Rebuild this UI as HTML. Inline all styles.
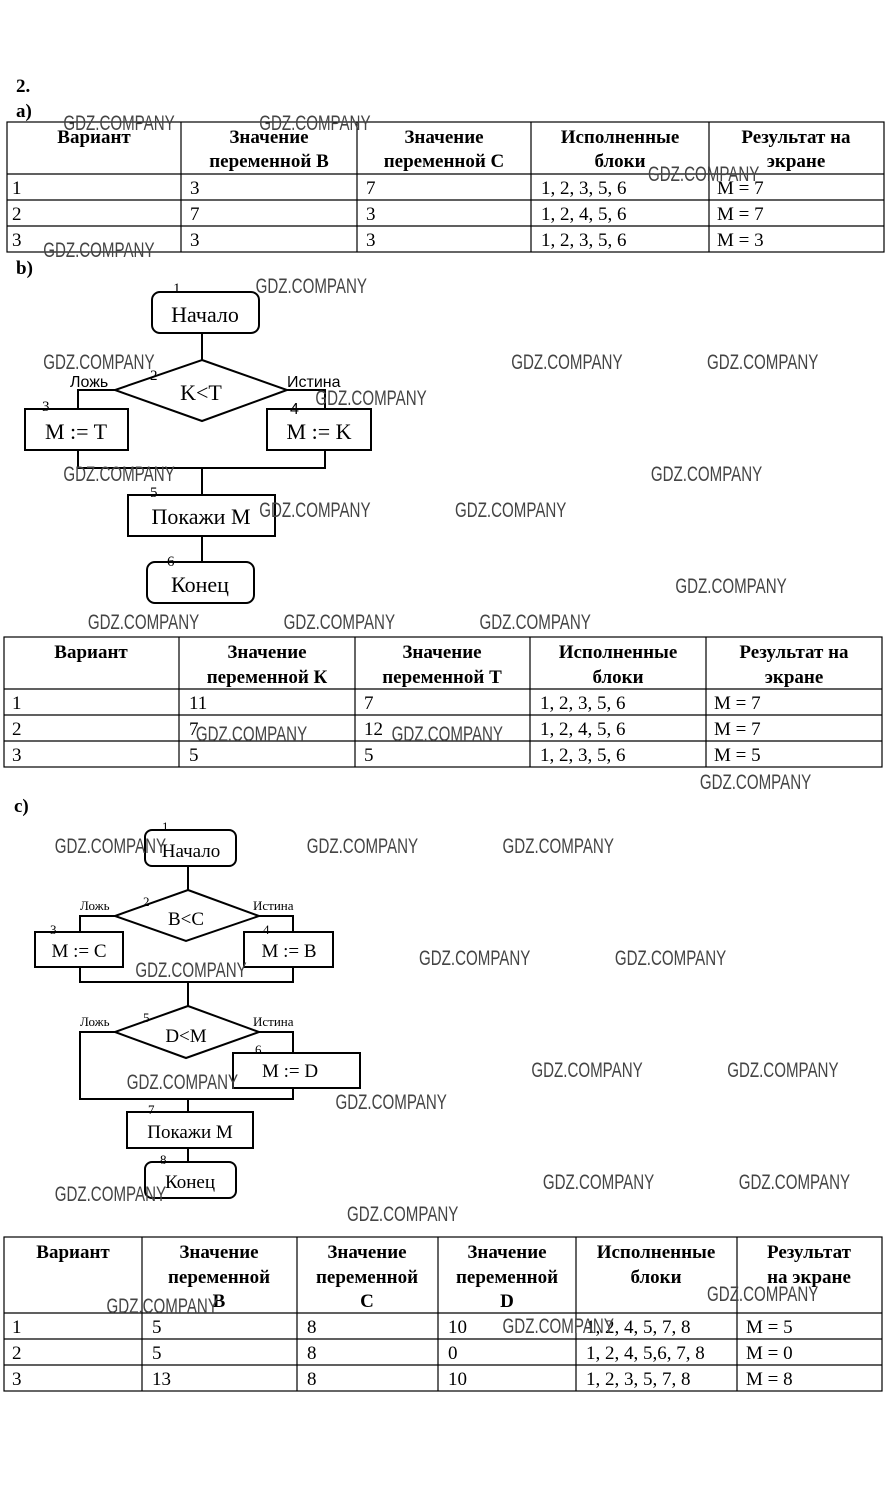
<!DOCTYPE html>
<html><head><meta charset="utf-8"><style>
body{margin:0;background:#fff;width:888px;height:1495px;position:relative;overflow:hidden;font-family:"Liberation Serif",serif;}
svg{position:absolute;left:0;top:0}
.w{font-family:"Liberation Sans",sans-serif;fill:#444;font-size:21px}
</style></head><body>
<svg width="888" height="1495" viewBox="0 0 888 1495">
<g font-family="Liberation Serif" fill="#000" font-size="19">
<text x="16" y="92" font-weight="bold">2.</text>
<text x="16" y="117" font-weight="bold">a)</text>
<text x="16" y="274" font-weight="bold">b)</text>
<text x="14" y="812" font-weight="bold">c)</text>
</g>
<!-- Table a -->
<g stroke="#000" stroke-width="1.2" fill="none">
<rect x="7" y="122" width="877" height="130"/>
<line x1="7" y1="174" x2="884" y2="174"/><line x1="7" y1="200" x2="884" y2="200"/><line x1="7" y1="226" x2="884" y2="226"/>
<line x1="181" y1="122" x2="181" y2="252"/><line x1="357" y1="122" x2="357" y2="252"/><line x1="531" y1="122" x2="531" y2="252"/><line x1="709" y1="122" x2="709" y2="252"/>
</g>
<g font-size="19" fill="#000">
<g font-weight="bold" text-anchor="middle"><text x="94" y="143">Вариант</text>
<text x="269" y="143">Значение</text><text x="269" y="167">переменной В</text>
<text x="444" y="143">Значение</text><text x="444" y="167">переменной С</text>
<text x="620" y="143">Исполненные</text><text x="620" y="167">блоки</text>
<text x="796" y="143">Результат на</text><text x="796" y="167">экране</text></g>
<text x="12" y="194">1</text><text x="190" y="194">3</text><text x="366" y="194">7</text><text x="541" y="194">1, 2, 3, 5, 6</text><text x="717" y="194">M = 7</text>
<text x="12" y="220">2</text><text x="190" y="220">7</text><text x="366" y="220">3</text><text x="541" y="220">1, 2, 4, 5, 6</text><text x="717" y="220">M = 7</text>
<text x="12" y="246">3</text><text x="190" y="246">3</text><text x="366" y="246">3</text><text x="541" y="246">1, 2, 3, 5, 6</text><text x="717" y="246">M = 3</text>
</g>
<!-- Flowchart b -->
<g stroke="#000" stroke-width="2" fill="none">
<rect x="152" y="292" width="107" height="41" rx="8"/>
<line x1="202" y1="333" x2="202" y2="360"/>
<polygon points="202,360 287,390 202,421 115,390"/>
<polyline points="115,390 78,390 78,409"/><polyline points="287,390 325,390 325,409"/>
<rect x="25" y="409" width="103" height="41"/><rect x="267" y="409" width="104" height="41"/>
<polyline points="78,450 78,468 325,468 325,450"/>
<line x1="202" y1="468" x2="202" y2="495"/>
<rect x="128" y="495" width="147" height="41"/>
<line x1="202" y1="536" x2="202" y2="562"/>
<rect x="147" y="562" width="107" height="41" rx="8"/>
</g>
<g fill="#000" font-size="22" text-anchor="middle">
<text x="205" y="322">Начало</text><text x="201" y="400">K&lt;T</text>
<text x="76" y="439">M := T</text><text x="319" y="439">M := K</text>
<text x="201" y="524">Покажи M</text><text x="200" y="592">Конец</text>
</g>
<g fill="#000" font-size="15"><text x="173" y="293">1</text><text x="150" y="380">2</text><text x="42" y="411">3</text><text x="150" y="497">5</text><text x="167" y="566">6</text></g>
<g font-family="Liberation Sans" font-size="16" fill="#000"><text x="70" y="387">Ложь</text><text x="287" y="387">Истина</text><text x="290" y="414">4</text></g>
<!-- Table b -->
<g stroke="#000" stroke-width="1.2" fill="none">
<rect x="4" y="637" width="878" height="130"/>
<line x1="4" y1="689" x2="882" y2="689"/><line x1="4" y1="715" x2="882" y2="715"/><line x1="4" y1="741" x2="882" y2="741"/>
<line x1="179" y1="637" x2="179" y2="767"/><line x1="355" y1="637" x2="355" y2="767"/><line x1="530" y1="637" x2="530" y2="767"/><line x1="706" y1="637" x2="706" y2="767"/>
</g>
<g font-size="19" fill="#000">
<g font-weight="bold" text-anchor="middle"><text x="91" y="658">Вариант</text>
<text x="267" y="658">Значение</text><text x="267" y="683">переменной К</text>
<text x="442" y="658">Значение</text><text x="442" y="683">переменной Т</text>
<text x="618" y="658">Исполненные</text><text x="618" y="683">блоки</text>
<text x="794" y="658">Результат на</text><text x="794" y="683">экране</text></g>
<text x="12" y="709">1</text><text x="189" y="709">11</text><text x="364" y="709">7</text><text x="540" y="709">1, 2, 3, 5, 6</text><text x="714" y="709">M = 7</text>
<text x="12" y="735">2</text><text x="189" y="735">7</text><text x="364" y="735">12</text><text x="540" y="735">1, 2, 4, 5, 6</text><text x="714" y="735">M = 7</text>
<text x="12" y="761">3</text><text x="189" y="761">5</text><text x="364" y="761">5</text><text x="540" y="761">1, 2, 3, 5, 6</text><text x="714" y="761">M = 5</text>
</g>
<!-- Flowchart c -->
<g stroke="#000" stroke-width="2" fill="none">
<rect x="145" y="830" width="91" height="36" rx="7"/>
<line x1="188" y1="866" x2="188" y2="890"/>
<polygon points="188,890 259,916 186,941 115,916"/>
<polyline points="115,916 80,916 80,932"/><polyline points="259,916 293,916 293,932"/>
<rect x="35" y="932" width="88" height="35"/><rect x="244" y="932" width="89" height="35"/>
<polyline points="80,967 80,982 293,982 293,967"/>
<line x1="188" y1="982" x2="188" y2="1006"/>
<polygon points="188,1006 259,1032 186,1058 115,1032"/>
<polyline points="115,1032 80,1032 80,1099 293,1099 293,1088"/>
<polyline points="259,1032 293,1032 293,1053"/>
<rect x="233" y="1053" width="127" height="35"/>
<line x1="188" y1="1099" x2="188" y2="1112"/>
<rect x="127" y="1112" width="126" height="36"/>
<line x1="188" y1="1148" x2="188" y2="1162"/>
<rect x="145" y="1162" width="91" height="36" rx="7"/>
</g>
<g fill="#000" font-size="19" text-anchor="middle">
<text x="191" y="857">Начало</text><text x="186" y="925">B&lt;C</text>
<text x="79" y="957">M := C</text><text x="289" y="957">M := B</text>
<text x="186" y="1042">D&lt;M</text><text x="290" y="1077">M := D</text>
<text x="190" y="1138">Покажи M</text><text x="190" y="1188">Конец</text>
</g>
<g fill="#000" font-size="13"><text x="162" y="831">1</text><text x="143" y="906">2</text><text x="50" y="934">3</text><text x="263" y="934">4</text><text x="143" y="1022">5</text><text x="255" y="1054">6</text><text x="148" y="1114">7</text><text x="160" y="1164">8</text>
<text x="80" y="910">Ложь</text><text x="253" y="910">Истина</text><text x="80" y="1026">Ложь</text><text x="253" y="1026">Истина</text></g>
<!-- Table c -->
<g stroke="#000" stroke-width="1.2" fill="none">
<rect x="4" y="1237" width="878" height="154"/>
<line x1="4" y1="1313" x2="882" y2="1313"/><line x1="4" y1="1339" x2="882" y2="1339"/><line x1="4" y1="1365" x2="882" y2="1365"/>
<line x1="142" y1="1237" x2="142" y2="1391"/><line x1="297" y1="1237" x2="297" y2="1391"/><line x1="438" y1="1237" x2="438" y2="1391"/><line x1="576" y1="1237" x2="576" y2="1391"/><line x1="737" y1="1237" x2="737" y2="1391"/>
</g>
<g font-size="19" fill="#000">
<g font-weight="bold" text-anchor="middle"><text x="73" y="1258">Вариант</text>
<text x="219" y="1258">Значение</text><text x="219" y="1283">переменной</text><text x="219" y="1307">B</text>
<text x="367" y="1258">Значение</text><text x="367" y="1283">переменной</text><text x="367" y="1307">C</text>
<text x="507" y="1258">Значение</text><text x="507" y="1283">переменной</text><text x="507" y="1307">D</text>
<text x="656" y="1258">Исполненные</text><text x="656" y="1283">блоки</text>
<text x="809" y="1258">Результат</text><text x="809" y="1283">на экране</text></g>
<text x="12" y="1333">1</text><text x="152" y="1333">5</text><text x="307" y="1333">8</text><text x="448" y="1333">10</text><text x="586" y="1333">1, 2, 4, 5, 7, 8</text><text x="746" y="1333">M = 5</text>
<text x="12" y="1359">2</text><text x="152" y="1359">5</text><text x="307" y="1359">8</text><text x="448" y="1359">0</text><text x="586" y="1359">1, 2, 4, 5,6, 7, 8</text><text x="746" y="1359">M = 0</text>
<text x="12" y="1385">3</text><text x="152" y="1385">13</text><text x="307" y="1385">8</text><text x="448" y="1385">10</text><text x="586" y="1385">1, 2, 3, 5, 7, 8</text><text x="746" y="1385">M = 8</text>
</g>
<!-- watermarks -->
<g class="w" transform="scale(0.72,1)">
<text x="88" y="130">GDZ.COMPANY</text><text x="360" y="130">GDZ.COMPANY</text><text x="900" y="181">GDZ.COMPANY</text>
<text x="60" y="257">GDZ.COMPANY</text><text x="355" y="293">GDZ.COMPANY</text><text x="60" y="369">GDZ.COMPANY</text>
<text x="710" y="369">GDZ.COMPANY</text><text x="982" y="369">GDZ.COMPANY</text><text x="438" y="405">GDZ.COMPANY</text>
<text x="88" y="481">GDZ.COMPANY</text><text x="904" y="481">GDZ.COMPANY</text><text x="360" y="517">GDZ.COMPANY</text>
<text x="632" y="517">GDZ.COMPANY</text><text x="938" y="593">GDZ.COMPANY</text><text x="122" y="629">GDZ.COMPANY</text>
<text x="394" y="629">GDZ.COMPANY</text><text x="666" y="629">GDZ.COMPANY</text><text x="272" y="741">GDZ.COMPANY</text>
<text x="544" y="741">GDZ.COMPANY</text><text x="972" y="789">GDZ.COMPANY</text><text x="76" y="853">GDZ.COMPANY</text>
<text x="426" y="853">GDZ.COMPANY</text><text x="698" y="853">GDZ.COMPANY</text><text x="188" y="977">GDZ.COMPANY</text>
<text x="582" y="965">GDZ.COMPANY</text><text x="854" y="965">GDZ.COMPANY</text><text x="176" y="1089">GDZ.COMPANY</text>
<text x="738" y="1077">GDZ.COMPANY</text><text x="1010" y="1077">GDZ.COMPANY</text><text x="466" y="1109">GDZ.COMPANY</text>
<text x="76" y="1201">GDZ.COMPANY</text><text x="754" y="1189">GDZ.COMPANY</text><text x="1026" y="1189">GDZ.COMPANY</text>
<text x="482" y="1221">GDZ.COMPANY</text><text x="148" y="1313">GDZ.COMPANY</text><text x="982" y="1301">GDZ.COMPANY</text>
<text x="698" y="1333">GDZ.COMPANY</text>
</g>
</svg>
</body></html>
